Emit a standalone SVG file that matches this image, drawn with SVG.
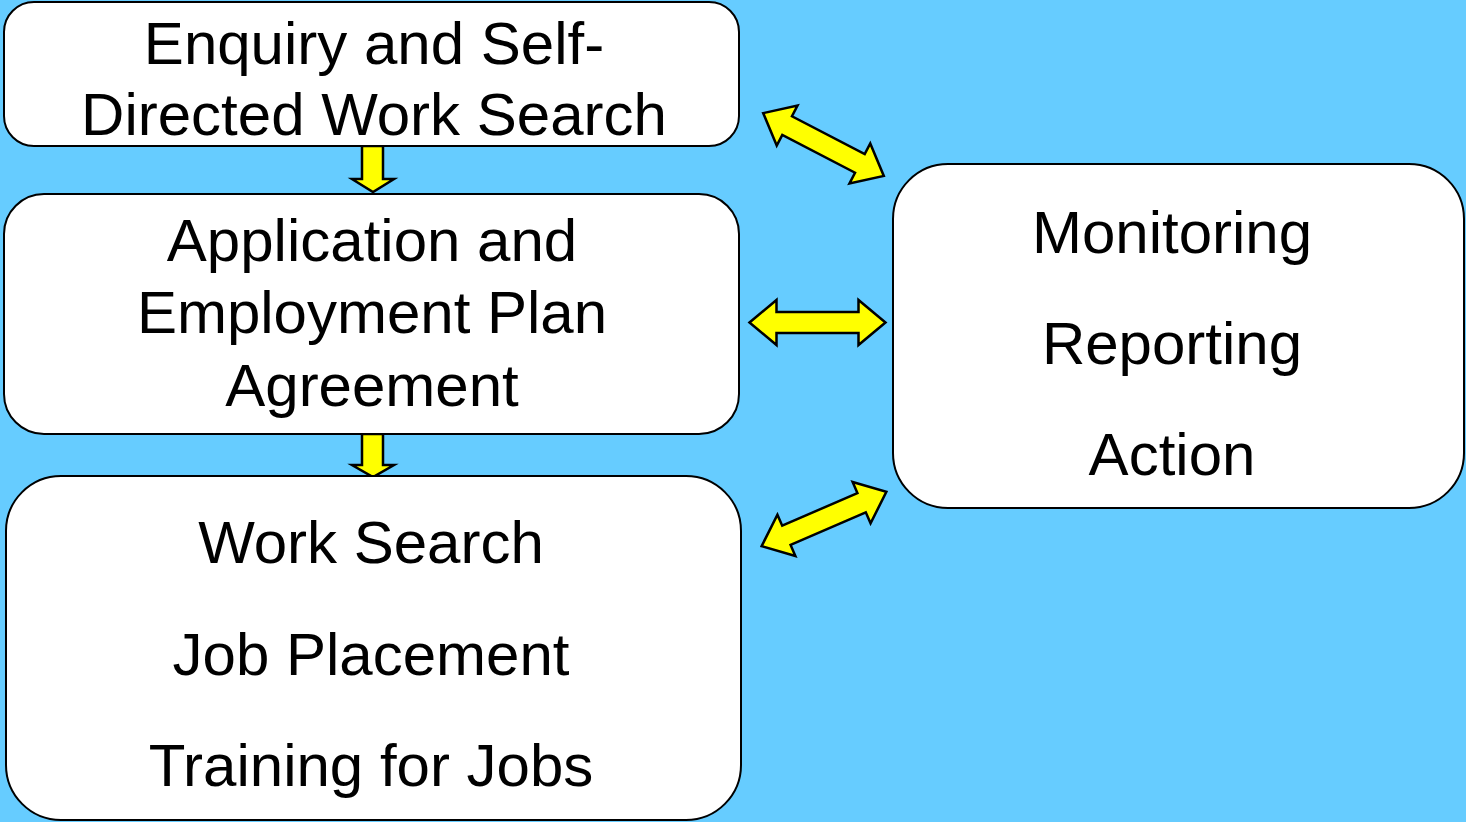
<svg xmlns="http://www.w3.org/2000/svg" width="1466" height="822" viewBox="0 0 1466 822">
<style>
.box{fill:#fff;stroke:#000;stroke-width:2}
.t{font-family:"Liberation Sans",Arial,sans-serif;font-size:60px;fill:#000;text-anchor:middle}
.arr{fill:#ffff00;stroke:#000;stroke-width:2.5;stroke-linejoin:miter}
</style>
<defs>
<path id="dbl" d="M-68,0 L-41,-22.5 L-41,-10.5 L41,-10.5 L41,-22.5 L68,0 L41,22.5 L41,10.5 L-41,10.5 L-41,22.5 Z"/>
</defs>
<rect width="1466" height="822" fill="#66ccff"/>
<g id="connectors">
<path class="arr" d="M362,146 L383,146 L383,179 L394,179 L373,192 L352,179 L362,179 Z"/>
<path class="arr" d="M362,434 L383,434 L383,465 L394,465 L373,477 L352,465 L362,465 Z"/>
<use href="#dbl" class="arr" transform="translate(823.5,144.5) rotate(27.5)"/>
<use href="#dbl" class="arr" transform="translate(817.5,322.5)"/>
<use href="#dbl" class="arr" transform="translate(824,519) rotate(-23.5)"/>
</g>
<g id="node1">
<rect class="box" x="4" y="2" width="735" height="144" rx="30"/>
<text class="t" x="374" y="64">Enquiry and Self-</text>
<text class="t" x="374" y="135">Directed Work Search</text>
</g>
<g id="node2">
<rect class="box" x="4" y="194" width="735" height="240" rx="40"/>
<text class="t" x="372" y="261">Application and</text>
<text class="t" x="372" y="333">Employment Plan</text>
<text class="t" x="372" y="406">Agreement</text>
</g>
<g id="node3">
<rect class="box" x="6" y="476" width="735" height="344" rx="55"/>
<text class="t" x="371" y="563">Work Search</text>
<text class="t" x="371" y="675">Job Placement</text>
<text class="t" x="371" y="786">Training for Jobs</text>
</g>
<g id="node4">
<rect class="box" x="893" y="164" width="571" height="344" rx="55"/>
<text class="t" x="1172" y="253">Monitoring</text>
<text class="t" x="1172" y="364">Reporting</text>
<text class="t" x="1172" y="475">Action</text>
</g>
</svg>
